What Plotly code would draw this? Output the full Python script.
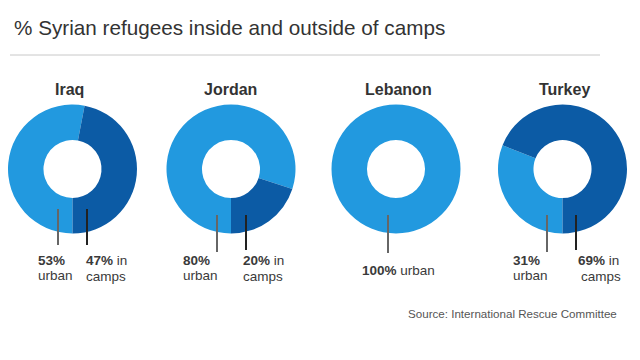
import plotly.graph_objects as go

countries = ["Iraq", "Jordan", "Lebanon", "Turkey"]
urban = [53, 80, 100, 31]
camps = [47, 20, 0, 69]
categories = ["urban", "in camps"]

centers_x = [72.5, 231, 396, 562.5]
name_x = [69, 230, 398, 564]
center_y = 169
radius = 64.5
W, H = 640, 360
OFF = 8  # page body margin

LIGHT = "#2299df"
DARK = "#0c5ba5"
TXT = "#3a3a3a"
FONT = "Liberation Sans, Arial, sans-serif"


def px(x):
    return (x - OFF) / W


def py(y):
    return 1 - (y - OFF) / H


fig = go.Figure()
for i, c in enumerate(countries):
    cx = centers_x[i]
    fig.add_trace(go.Pie(
        labels=categories,
        values=[urban[i], camps[i]],
        hole=0.45,
        sort=False,
        direction="clockwise",
        rotation=180,
        marker=dict(colors=[LIGHT, DARK], line=dict(width=0)),
        textinfo="none",
        hoverinfo="label+percent",
        showlegend=False,
        domain=dict(x=[px(cx - radius), px(cx + radius)],
                    y=[py(center_y + radius), py(center_y - radius)]),
    ))

annotations = []
shapes = []

# title
annotations.append(dict(x=px(12), y=py(27), xref="paper", yref="paper", text="% Syrian refugees inside and outside of camps",
                        showarrow=False, xanchor="left", yanchor="middle",
                        font=dict(family=FONT, size=20.7, color="#333333")))
shapes.append(dict(type="line", xref="paper", yref="paper", x0=px(10), x1=px(600), y0=py(55), y1=py(55),
                   line=dict(color="#c8c8c8", width=1)))

# country names
for i, c in enumerate(countries):
    annotations.append(dict(x=px(name_x[i]), y=py(90), xref="paper", yref="paper", text="<b>%s</b>" % c,
                            showarrow=False, xanchor="center", yanchor="middle",
                            font=dict(family=FONT, size=16, color="#333333")))

# leader lines
line_specs = [
    (58, 209, 245, "#666666"), (87, 209, 245, "#222222"),
    (217, 215, 252, "#666666"), (246, 215, 250, "#222222"),
    (388, 215, 253, "#666666"),
    (547, 215, 252, "#666666"), (576, 215, 250, "#222222"),
]
for x, y0, y1, col in line_specs:
    shapes.append(dict(type="line", xref="paper", yref="paper", x0=px(x), x1=px(x), y0=py(y0), y1=py(y1),
                       line=dict(color=col, width=2)))

label_font = dict(family=FONT, size=13.5, color=TXT)
urban_label_x = [36, 181, None, 511]
camps_label_x = [84, 241, None, 576]


def add_text(x, y, t, anchor="left"):
    annotations.append(dict(x=px(x), y=py(y), xref="paper", yref="paper", text=t, showarrow=False,
                            xanchor=anchor, yanchor="middle", font=label_font))


for i in range(4):
    if camps[i] == 0:
        add_text(398, 270, "<b>%d%%</b> urban" % urban[i], anchor="center")
        continue
    add_text(urban_label_x[i], 261, "<b>%d%%</b>" % urban[i])
    add_text(urban_label_x[i], 275, "urban")
    add_text(camps_label_x[i], 261, "<b>%d%%</b> in" % camps[i])
    add_text(camps_label_x[i] + (3 if i == 3 else 0), 276, "camps")

annotations.append(dict(x=px(619), y=py(313), xref="paper", yref="paper", text="Source: International Rescue Committee",
                        showarrow=False, xanchor="right", yanchor="middle",
                        font=dict(family=FONT, size=11.6, color="#555555")))

fig.update_layout(width=W, height=H, margin=dict(l=0, r=0, t=0, b=0),
                  paper_bgcolor="white", plot_bgcolor="white",
                  annotations=annotations, shapes=shapes)
fig.write_html("out.html")
